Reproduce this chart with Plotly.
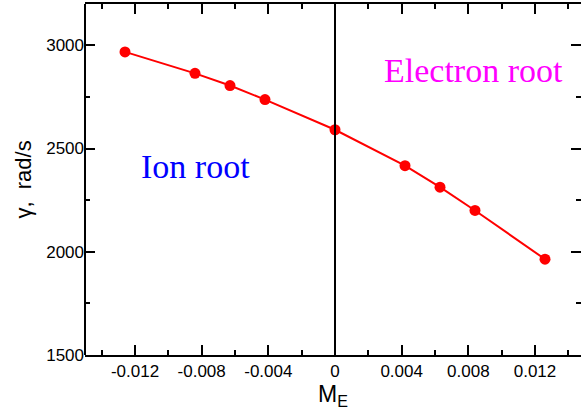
import plotly.graph_objects as go

# Data
mach_e = [-0.0126, -0.0084, -0.0063, -0.0042, 0.0, 0.0042, 0.0063, 0.0084, 0.0126]
gamma = [2968, 2864, 2805, 2737, 2591, 2417, 2313, 2200, 1964]

x_tickvals = [-0.012, -0.008, -0.004, 0, 0.004, 0.008, 0.012]
x_ticktext = ["-0.012", "-0.008", "-0.004", "0", "0.004", "0.008", "0.012"]
y_tickvals = [1500, 2000, 2500, 3000]

W, H = 581, 416
L, R, T, B = 85, 0, 4, 61
x_lo, x_hi_full = -0.015, 0.015
px_per_unit = 500 / (x_hi_full - x_lo)
x_hi = x_lo + (W - L - R) / px_per_unit

fig = go.Figure()
fig.add_trace(go.Scatter(
    x=mach_e, y=gamma, mode="lines+markers",
    line=dict(color="#ff0000", width=2),
    marker=dict(color="#ff0000", size=11),
    showlegend=False,
))

tickfont = dict(family="Liberation Sans, Arial, sans-serif", size=17, color="black")

fig.update_xaxes(
    range=[x_lo, x_hi], tickvals=x_tickvals, ticktext=x_ticktext,
    ticks="inside", ticklen=10, tickwidth=1.5, tickcolor="black",
    minor=dict(ticks="inside", ticklen=5, tickwidth=1.5, tickcolor="black", dtick=0.002, tick0=0),
    showline=True, linecolor="black", linewidth=2, mirror="ticks",
    showgrid=False, zeroline=False, tickfont=tickfont,
    title=dict(text="M<sub>E</sub>", font=dict(family="Liberation Sans, Arial, sans-serif", size=23, color="black"), standoff=2),
)
fig.update_yaxes(
    range=[1500, 3200], tickvals=y_tickvals,
    ticks="inside", ticklen=10, tickwidth=1.5, tickcolor="black",
    minor=dict(ticks="inside", ticklen=5, tickwidth=1.5, tickcolor="black", dtick=250, tick0=1500),
    showline=False, mirror="ticks",
    showgrid=False, zeroline=False, tickfont=tickfont,
    title=dict(text="γ,\u00a0\u00a0rad/s", font=dict(family="Liberation Sans, Arial, sans-serif", size=22, color="black"), standoff=8),
)

fig.add_shape(type="line", xref="paper", yref="paper", x0=0, x1=0, y0=0, y1=1,
              line=dict(color="black", width=2), layer="above")
fig.add_shape(type="line", xref="x", yref="paper", x0=0, x1=0, y0=0, y1=1,
              line=dict(color="black", width=2), layer="above")

fig.add_annotation(x=-0.0084, y=2412, xref="x", yref="y", text="Ion root", showarrow=False,
                   font=dict(family="Liberation Serif, Times New Roman, serif", size=34, color="#0000ff"))
fig.add_annotation(x=0.0083, y=2876, xref="x", yref="y", text="Electron root", showarrow=False,
                   font=dict(family="Liberation Serif, Times New Roman, serif", size=34, color="#ff00ff"))

fig.update_layout(
    width=W, height=H,
    margin=dict(l=L, r=R, t=T, b=B),
    paper_bgcolor="white", plot_bgcolor="white",
)
fig.write_html("out.html")
